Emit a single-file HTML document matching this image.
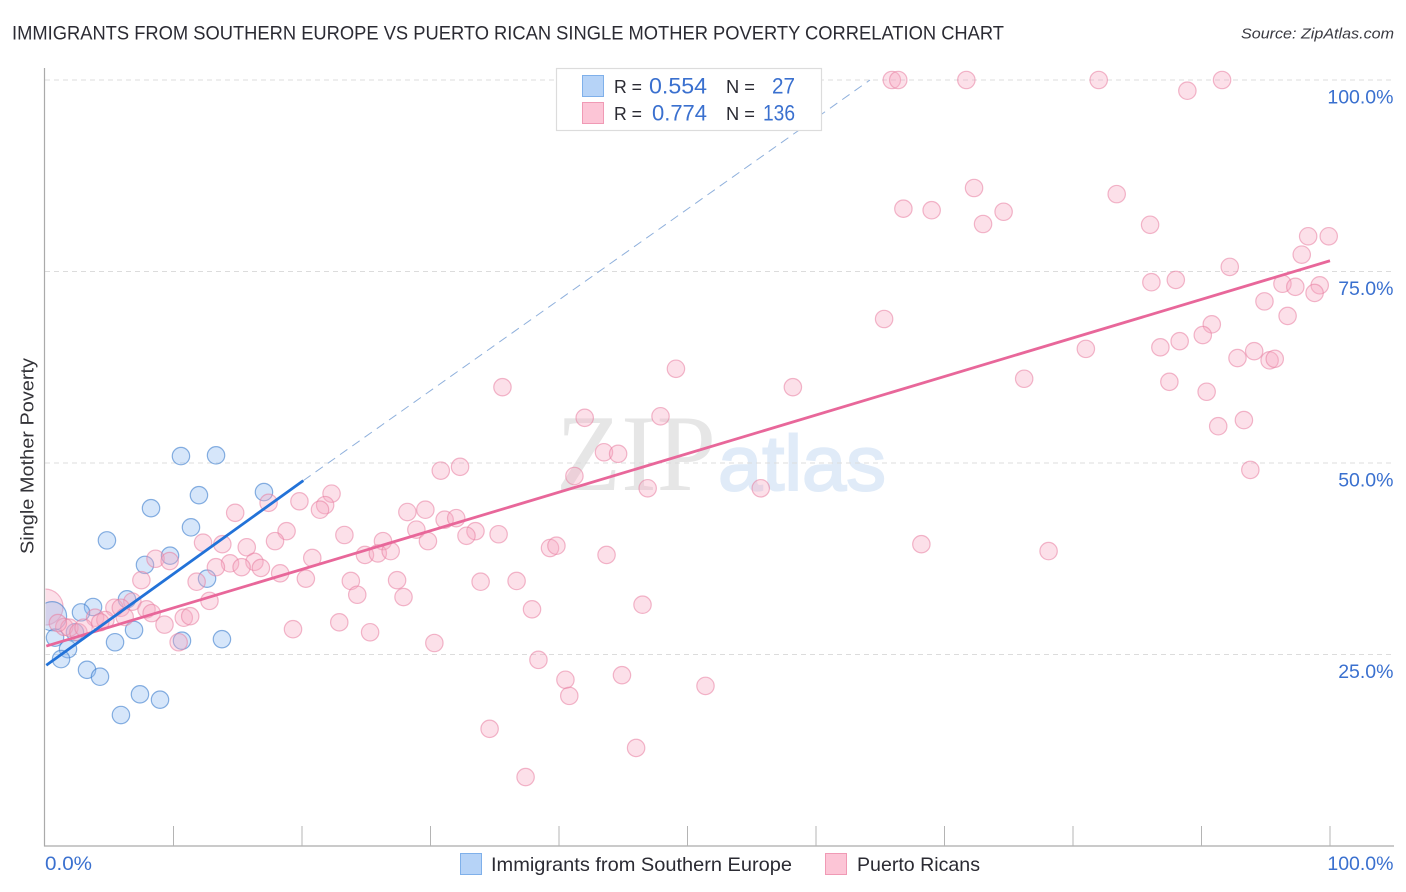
<!DOCTYPE html>
<html lang="en">
<head>
<meta charset="utf-8">
<title>Immigrants from Southern Europe vs Puerto Rican Single Mother Poverty Correlation Chart</title>
<style>
html,body{margin:0;padding:0;background:#fff;}
body{width:1406px;height:892px;overflow:hidden;font-family:"Liberation Sans",sans-serif;}
svg{display:block;}
text{font-family:"Liberation Sans",sans-serif;}
</style>
</head>
<body>
<svg id="chart" width="1406" height="892" viewBox="0 0 1406 892" xmlns="http://www.w3.org/2000/svg">
  <text x="12" y="39.5" font-size="19.5" fill="#2b2b33" textLength="992" lengthAdjust="spacingAndGlyphs">IMMIGRANTS FROM SOUTHERN EUROPE VS PUERTO RICAN SINGLE MOTHER POVERTY CORRELATION CHART</text>
  <text x="1394" y="38.5" font-size="15" font-style="italic" fill="#3a3a42" text-anchor="end" textLength="153" lengthAdjust="spacingAndGlyphs">Source: ZipAtlas.com</text>
  <g>
    <text x="556" y="490" font-size="109" fill="#e6e6e6" style="font-family:'Liberation Serif',serif" textLength="160" lengthAdjust="spacingAndGlyphs">ZIP</text>
    <text x="718" y="490" font-size="78" fill="#e0ebf8" stroke="#e0ebf8" stroke-width="2" textLength="168" lengthAdjust="spacingAndGlyphs">atlas</text>
  </g>
  <g id="grid"></g>
  <g id="marks"></g>
  <rect x="0" y="560" width="45.5" height="100" fill="#ffffff"/>
  <g id="axes"></g>
  <g id="trends"></g>
  <text transform="translate(33.5,456) rotate(-90)" font-size="18.5" fill="#333338" text-anchor="middle" textLength="196" lengthAdjust="spacingAndGlyphs">Single Mother Poverty</text>
  <g>
    <rect x="556.5" y="68.5" width="265" height="62" fill="#ffffff" stroke="#dcdcdc" stroke-width="1.2"/>
    <rect x="582.5" y="75.5" width="21" height="21" fill="#b6d3f7" stroke="#7fb0ea" stroke-width="1"/>
    <rect x="582.5" y="102.5" width="21" height="21" fill="#fcc5d6" stroke="#f09ab5" stroke-width="1"/>
    <text x="614" y="93" font-size="18.5" fill="#2b2b33" textLength="28" lengthAdjust="spacingAndGlyphs">R =</text>
    <text x="649" y="93.5" font-size="22" fill="#3a70cf" textLength="58" lengthAdjust="spacingAndGlyphs">0.554</text>
    <text x="726" y="93" font-size="18.5" fill="#2b2b33" textLength="29" lengthAdjust="spacingAndGlyphs">N =</text>
    <text x="772" y="93.5" font-size="22" fill="#3a70cf" textLength="23" lengthAdjust="spacingAndGlyphs">27</text>
    <text x="614" y="120" font-size="18.5" fill="#2b2b33" textLength="28" lengthAdjust="spacingAndGlyphs">R =</text>
    <text x="652" y="120.5" font-size="22" fill="#3a70cf" textLength="55" lengthAdjust="spacingAndGlyphs">0.774</text>
    <text x="726" y="120" font-size="18.5" fill="#2b2b33" textLength="29" lengthAdjust="spacingAndGlyphs">N =</text>
    <text x="763" y="120.5" font-size="22" fill="#3a70cf" textLength="32" lengthAdjust="spacingAndGlyphs">136</text>
  </g>
  <g>
    <g>
      <rect x="460.5" y="853.5" width="21" height="21" fill="#b6d3f7" stroke="#7fb0ea" stroke-width="1"/>
      <text x="491" y="871" font-size="19.5" fill="#2b2b33" textLength="301" lengthAdjust="spacingAndGlyphs">Immigrants from Southern Europe</text>
    </g>
    <g>
      <rect x="825.5" y="853.5" width="21" height="21" fill="#fcc5d6" stroke="#f09ab5" stroke-width="1"/>
      <text x="857" y="871" font-size="19.5" fill="#2b2b33" textLength="123" lengthAdjust="spacingAndGlyphs">Puerto Ricans</text>
    </g>
  </g>
</svg>
<script>
const yTickValues = [25, 50, 75, 100];
const yTickLabels = ['25.0%', '50.0%', '75.0%', '100.0%'];
const xTickValues = [10, 20, 30, 40, 50, 60, 70, 80, 90, 100];
const xEndLabels = ['0.0%', '100.0%'];

const blueX = [10.58,13.31,11.98,8.25,17.04,11.36,4.82,9.73,7.78,12.61,6.38,3.74,2.8,0.78,1.79,1.25,3.27,4.28,7.39,8.95,5.91,5.45,6.93,10.66,13.77,2.33];
const blueY = [50.9,51.0,45.8,44.1,46.2,41.6,39.9,37.9,36.7,34.9,32.2,31.2,30.5,27.2,25.7,24.4,23.0,22.1,19.8,19.1,17.1,26.6,28.2,26.8,27.0,27.9];
const blueClusterX = [0.55];
const blueClusterY = [30.0];
const blueClusterCount = [2.8];

const pinkX = [65.9,66.4,71.7,82.0,91.6,88.9,72.3,83.4,66.8,69.0,74.6,73.0,86.0,98.3,99.9,97.8,92.2,86.1,88.0,96.3,97.3,99.2,98.8,94.9,96.7,65.3,90.8,90.1,88.3,86.8,81.0,94.1,92.8,95.3,95.7,49.1,76.2,87.5,58.2,35.6,90.4,42.0,47.9,93.3,91.3,43.5,44.6,30.8,32.3,93.8,41.2,46.9,55.7,22.3,19.8,17.4,21.8,21.4,14.8,29.6,28.2,31.1,32.0,18.8,28.9,33.5,23.3,32.8,35.3,12.3,13.8,17.9,26.3,29.8,15.7,39.3,39.8,68.2,78.1,20.8,24.9,25.9,26.9,43.7,8.6,9.7,14.4,16.3,13.3,15.3,16.8,18.3,7.5,11.8,20.3,23.8,27.4,33.9,36.7,24.3,27.9,12.8,6.8,46.5,37.9,7.9,5.4,5.9,8.3,3.9,4.7,6.2,10.8,11.3,9.3,22.9,19.3,25.3,1.5,1.9,2.6,3.0,4.3,10.4,30.3,38.4,40.5,44.9,51.4,40.8,34.6,46.0,37.4,1.0];
const pinkY = [100,100,100,100,100,98.6,85.9,85.1,83.2,83.0,82.8,81.2,81.1,79.6,79.6,77.2,75.6,73.6,73.9,73.4,73.0,73.2,72.2,71.1,69.2,68.8,68.1,66.7,65.9,65.1,64.9,64.6,63.7,63.4,63.6,62.3,61.0,60.6,59.9,59.9,59.3,55.9,56.1,55.6,54.8,51.4,51.2,49.0,49.5,49.1,48.3,46.7,46.7,46.0,45.0,44.8,44.5,43.9,43.5,43.9,43.6,42.6,42.8,41.1,41.3,41.1,40.6,40.5,40.7,39.6,39.4,39.8,39.8,39.8,39.0,38.9,39.2,39.4,38.5,37.6,38.0,38.2,38.5,38.0,37.5,37.2,36.9,37.1,36.4,36.4,36.3,35.6,34.7,34.5,34.9,34.6,34.7,34.5,34.6,32.8,32.5,32.0,31.9,31.5,30.9,30.9,31.1,31.1,30.4,29.8,29.5,29.9,29.8,30.0,28.9,29.2,28.3,27.9,28.6,28.5,27.9,28.5,29.2,26.6,26.5,24.3,21.7,22.3,20.9,19.6,15.3,12.8,9.0,29.1];
const pinkClusterX = [0.0];
const pinkClusterY = [31.2];
const pinkClusterCount = [4.3];

const blueTrendX = [0.1, 20.1];
const blueTrendY = [23.6, 47.7];
const blueExtensionX = [20.1, 64.2];
const blueExtensionY = [47.7, 100];
const pinkTrendX = [0.1, 100];
const pinkTrendY = [26.1, 76.4];

const NS = 'http://www.w3.org/2000/svg';
const xScale = v => 45 + v * 12.85;
const yScale = v => 846 - v * 7.66;
const baseRadius = 8.7;

function make(parent, tag, attrs, text) {
  const el = document.createElementNS(NS, tag);
  for (const k in attrs) el.setAttribute(k, attrs[k]);
  if (text !== undefined) el.textContent = text;
  parent.appendChild(el);
  return el;
}

const grid = document.getElementById('grid');
const axes = document.getElementById('axes');
const marks = document.getElementById('marks');
const trends = document.getElementById('trends');

yTickValues.forEach((v, i) => {
  const line = make(grid, 'line', {x1: 45, x2: 1394, y1: yScale(v), y2: yScale(v), stroke: '#dcdcdc', 'stroke-width': 1, 'stroke-dasharray': '5 4'});
  
  
  const label = make(axes, 'text', {x: 1393.5, y: yScale(v) + 23.5, 'font-size': 19.5, fill: '#3a70cf', 'text-anchor': 'end'}, yTickLabels[i]);
  
  
});

const yAxis = make(axes, 'line', {x1: 44.5, x2: 44.5, y1: 68, y2: 846.5, stroke: '#aaaaaa', 'stroke-width': 1.2});


const xAxis = make(axes, 'line', {x1: 44, x2: 1394, y1: 846, y2: 846, stroke: '#aaaaaa', 'stroke-width': 1.2});



xTickValues.forEach(v => {
  const tick = make(axes, 'line', {x1: xScale(v), x2: xScale(v), y1: 826, y2: 846, stroke: '#b4b4b4', 'stroke-width': 1});
  
  
});
const xStart = make(axes, 'text', {x: 45, y: 870, 'font-size': 19.5, fill: '#3a70cf', textLength: 47, lengthAdjust: 'spacingAndGlyphs'}, xEndLabels[0]);


const xEnd = make(axes, 'text', {x: 1393.5, y: 870, 'font-size': 19.5, fill: '#3a70cf', 'text-anchor': 'end'}, xEndLabels[1]);



function drawPink(x, y, r) {
  const c = make(marks, 'circle', {cx: xScale(x), cy: yScale(y), r: r, fill: 'rgba(248,170,195,0.36)', stroke: 'rgba(232,125,160,0.55)', 'stroke-width': 1.2});
  
  
}
function drawBlue(x, y, r) {
  const c = make(marks, 'circle', {cx: xScale(x), cy: yScale(y), r: r, fill: 'rgba(140,185,240,0.36)', stroke: 'rgba(60,125,205,0.6)', 'stroke-width': 1.2});
  
  
}
pinkClusterX.forEach((x, i) => drawPink(x, pinkClusterY[i], baseRadius * Math.sqrt(pinkClusterCount[i])));
blueClusterX.forEach((x, i) => drawBlue(x, blueClusterY[i], baseRadius * Math.sqrt(blueClusterCount[i])));
blueX.forEach((x, i) => drawBlue(x, blueY[i], baseRadius));
pinkX.forEach((x, i) => drawPink(x, pinkY[i], baseRadius));

const ext = make(trends, 'line', {x1: xScale(blueExtensionX[0]), y1: yScale(blueExtensionY[0]), x2: xScale(blueExtensionX[1]), y2: yScale(blueExtensionY[1]), stroke: '#8fb0dc', 'stroke-width': 1, 'stroke-dasharray': '9 6'});


const pinkLine = make(trends, 'line', {x1: xScale(pinkTrendX[0]), y1: yScale(pinkTrendY[0]), x2: xScale(pinkTrendX[1]), y2: yScale(pinkTrendY[1]), stroke: '#e8679a', 'stroke-width': 2.8});


const blueLine = make(trends, 'line', {x1: xScale(blueTrendX[0]), y1: yScale(blueTrendY[0]), x2: xScale(blueTrendX[1]), y2: yScale(blueTrendY[1]), stroke: '#2272d8', 'stroke-width': 2.8});


</script>
</body>
</html>
